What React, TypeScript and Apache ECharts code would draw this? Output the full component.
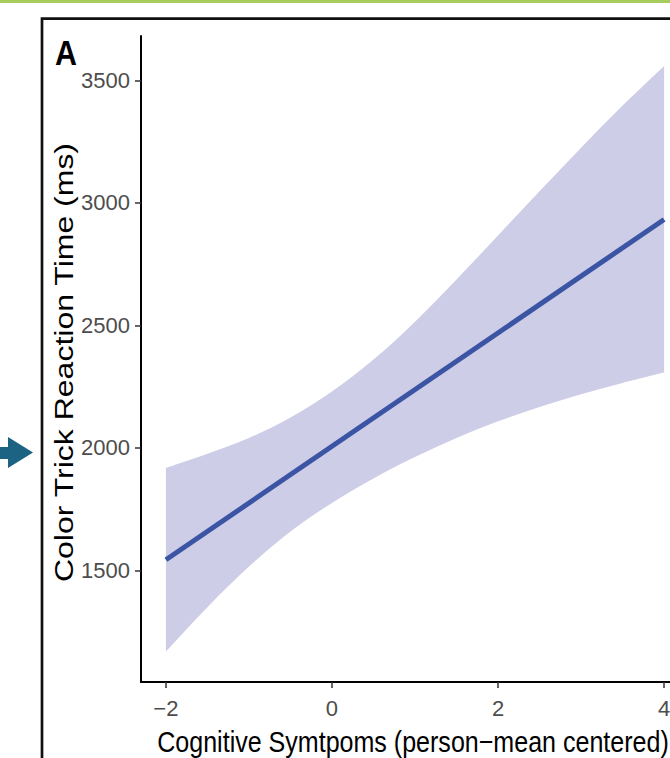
import React, { useEffect, useRef } from "react";
import * as echarts from "echarts";

// Data
const xGrid = [-2, -1.5, -1, -0.5, 0, 0.5, 1, 1.5, 2, 2.5, 3, 3.5, 4];
const ciUpper = [1918, 1976, 2040, 2124, 2230, 2360, 2515, 2687, 2867, 3047, 3225, 3397, 3559];
const ciLower = [1168, 1349, 1515, 1658, 1775, 1875, 1962, 2040, 2108, 2167, 2219, 2265, 2307];
const fitX = [-2, 4];
const fitY = [1543, 2932];
const xTicks = [-2, 0, 2, 4];
const yTicks = [1500, 2000, 2500, 3000, 3500];

const X_TITLE = "Cognitive Symtpoms (person\u2212mean centered)";
const Y_TITLE = "Color Trick Reaction Time (ms)";
const PANEL = "A";

const SANS = "'Liberation Sans', Arial, Helvetica, sans-serif";

// Smooth (Catmull-Rom -> cubic Bezier) path segments through pixel points
function curveThrough(pts: number[][]): string {
  let d = "";
  for (let i = 0; i < pts.length - 1; i++) {
    const p0 = pts[Math.max(0, i - 1)];
    const p1 = pts[i];
    const p2 = pts[i + 1];
    const p3 = pts[Math.min(pts.length - 1, i + 2)];
    const c1x = p1[0] + (p2[0] - p0[0]) / 6;
    const c1y = p1[1] + (p2[1] - p0[1]) / 6;
    const c2x = p2[0] - (p3[0] - p1[0]) / 6;
    const c2y = p2[1] - (p3[1] - p1[1]) / 6;
    d += ` C ${c1x} ${c1y} ${c2x} ${c2y} ${p2[0]} ${p2[1]}`;
  }
  return d;
}

export default function App() {
  const ref = useRef<HTMLDivElement>(null);
  useEffect(() => {
    if (!ref.current) return;
    const chart = echarts.init(ref.current, null, { renderer: "svg" });
    const fitData = fitX.map((x, i) => [x, fitY[i]]);
    chart.setOption({
      animation: false,
      backgroundColor: "#ffffff",
      textStyle: { fontFamily: SANS },
      grid: {
        left: 141,
        top: 36,
        width: 548,
        height: 646,
        containLabel: false,
        outerBoundsMode: "none",
      },
      xAxis: {
        type: "value",
        min: -2.3,
        max: 4.3,
        axisLine: { show: true, onZero: false, lineStyle: { color: "#000", width: 2 } },
        axisTick: {
          show: true,
          length: 6,
          customValues: xTicks,
          lineStyle: { color: "#333", width: 1.5 },
        },
        axisLabel: {
          customValues: xTicks,
          margin: 15,
          color: "#4d4d4d",
          fontSize: 22,
          fontFamily: SANS,
          formatter: (v: number) => (v < 0 ? "\u2212" + Math.abs(v) : String(v)),
        },
        splitLine: { show: false },
      },
      yAxis: {
        type: "value",
        min: 1044,
        max: 3681,
        axisLine: { show: true, onZero: false, lineStyle: { color: "#000", width: 2 } },
        axisTick: {
          show: true,
          length: 6,
          customValues: yTicks,
          lineStyle: { color: "#333", width: 1.5 },
        },
        axisLabel: {
          customValues: yTicks,
          margin: 11,
          color: "#4d4d4d",
          fontSize: 22,
          fontFamily: SANS,
          formatter: (v: number) => String(v),
        },
        splitLine: { show: false },
      },
      series: [
        {
          type: "custom",
          data: [[xGrid[0], ciLower[0]]],
          encode: { x: 0, y: 1 },
          silent: true,
          clip: false,
          renderItem: (_params: any, api: any) => {
            const up: number[][] = xGrid.map((x, i) => api.coord([x, ciUpper[i]]));
            const lo: number[][] = xGrid
              .map((x, i) => api.coord([x, ciLower[i]]))
              .reverse();
            const d =
              `M ${up[0][0]} ${up[0][1]}` +
              curveThrough(up) +
              ` L ${lo[0][0]} ${lo[0][1]}` +
              curveThrough(lo) +
              " Z";
            return {
              type: "path",
              shape: { pathData: d },
              style: { fill: "#cecde8", stroke: "none" },
            };
          },
        },
        {
          type: "line",
          data: fitData,
          symbol: "none",
          lineStyle: { color: "#3b55a4", width: 5, cap: "butt" },
          silent: true,
          z: 3,
        },
      ],
      graphic: [
        {
          type: "rect",
          shape: { x: 0, y: 0, width: 670, height: 3 },
          style: { fill: "#a6cd5b" },
          silent: true,
        },
        {
          type: "rect",
          shape: { x: 42, y: 18.7, width: 700, height: 800 },
          style: { fill: "none", stroke: "#111", lineWidth: 2.7 },
          silent: true,
        },
        {
          type: "polygon",
          shape: {
            points: [
              [0, 447],
              [8, 447],
              [8, 437],
              [33, 452.5],
              [8, 468],
              [8, 459],
              [0, 459],
            ],
          },
          style: { fill: "#1b6283" },
          silent: true,
        },
        {
          type: "text",
          x: 55,
          y: 52.5,
          scaleX: 0.87,
          style: {
            text: PANEL,
            fill: "#000",
            font: "bold 35px 'Liberation Sans', Arial, sans-serif",
            textAlign: "left",
            textVerticalAlign: "middle",
          },
          silent: true,
        },
        {
          type: "text",
          x: 413,
          y: 742,
          scaleX: 0.835,
          style: {
            text: X_TITLE,
            fill: "#000",
            font: "30px 'Liberation Sans', Arial, sans-serif",
            textAlign: "center",
            textVerticalAlign: "middle",
          },
          silent: true,
        },
        {
          type: "text",
          x: 64.5,
          y: 362.5,
          rotation: Math.PI / 2,
          scaleY: 0.8,
          style: {
            text: Y_TITLE,
            fill: "#000",
            font: "32px 'Liberation Sans', Arial, sans-serif",
            textAlign: "center",
            textVerticalAlign: "middle",
          },
          silent: true,
        },
      ],
    });
    return () => chart.dispose();
  }, []);
  return (
    <div
      ref={ref}
      style={{ position: "fixed", left: 0, top: 0, width: 670, height: 758, background: "#fff" }}
    />
  );
}
